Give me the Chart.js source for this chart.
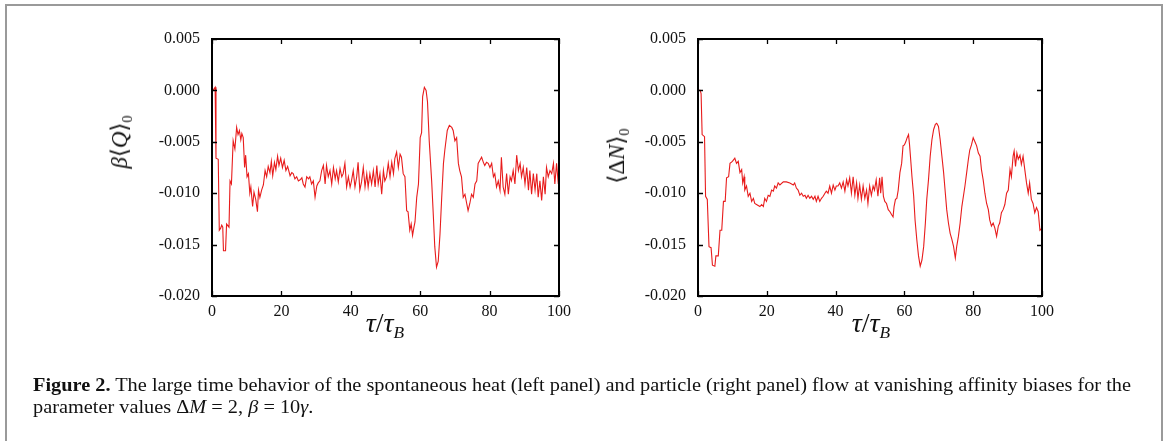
<!DOCTYPE html>
<html>
<head>
<meta charset="utf-8">
<script src="https://cdn.jsdelivr.net/npm/chart.js@4.4.1/dist/chart.umd.min.js"></script>
<style>
  html, body { margin:0; padding:0; background:#fff; }
  body { width:1168px; height:441px; overflow:hidden; position:relative; font-family:"Liberation Serif", "DejaVu Serif", serif; }
  #frame { position:absolute; left:5px; top:4px; width:1158px; height:470px; border:2px solid #9a9a9a; border-bottom:none; box-sizing:border-box; }
  canvas { position:absolute; top:0; }
  .ytitle { position:absolute; transform:translate(-50%,-50%) rotate(-90deg); font-size:23px; white-space:nowrap; color:#111; }
  .xtitle { position:absolute; transform:translate(-50%,-50%); font-size:28px; white-space:nowrap; color:#111; }
  .cap { position:absolute; left:33px; font-size:19px; line-height:22px; white-space:nowrap; color:#111; transform-origin:left top; }
  sub { font-size:62%; vertical-align:-0.35em; }
</style>
</head>
<body>
<div id="frame"></div>
<div style="position:absolute;left:0;top:0;width:584px;height:441px"><canvas id="c1" width="584" height="441" style="left:0"></canvas></div>
<div style="position:absolute;left:584px;top:0;width:584px;height:441px"><canvas id="c2" width="584" height="441" style="left:0"></canvas></div>

<div class="ytitle" style="left:121px;top:142px"><i>β</i>⟨<i>Q</i>⟩<sub>0</sub></div>
<div class="ytitle" style="left:618px;top:156px">⟨Δ<i>N</i>⟩<sub>0</sub></div>
<div class="xtitle" style="left:385px;top:325px"><i>τ</i>/<i>τ</i><sub><i>B</i></sub></div>
<div class="xtitle" style="left:871px;top:325px"><i>τ</i>/<i>τ</i><sub><i>B</i></sub></div>

<div class="cap" id="cap1" style="top:374px"><b>Figure 2.</b> The large time behavior of the spontaneous heat (left panel) and particle (right panel) flow at vanishing affinity biases for the</div>
<div class="cap" id="cap2" style="top:396px">parameter values Δ<i>M</i> = 2, <i>β</i> = 10<i>γ</i>.</div>

<script>
// ---- data ----
const xTicks = [0, 20, 40, 60, 80, 100];
const yTicks = [-0.020, -0.015, -0.010, -0.005, 0.000, 0.005];

const heatT = [0,0.5,0.9,1.15,1.8,2.1,2.5,2.8,3.1,3.3,3.9,4.2,4.9,5.2,5.6,6.1,6.6,7.1,7.5,7.9,8.3,8.6,9.0,9.4,9.7,10.1,10.5,10.9,11.2,11.7,12.1,12.6,13.1,13.4,13.8,14.3,14.8,15.3,15.75,16.2,16.7,17.1,17.5,18.0,18.4,18.9,19.3,19.8,20.3,20.8,21.3,21.8,22.5,23.0,23.4,23.9,24.4,24.9,25.4,25.9,26.3,26.8,27.3,27.8,28.2,28.7,29.2,29.7,30.2,30.6,31.1,31.6,32.1,32.6,33.0,33.5,34.0,34.5,35.0,35.5,35.9,36.4,36.9,37.4,37.8,38.3,38.8,39.3,39.8,40.2,40.7,41.2,41.7,42.1,42.6,43.1,43.6,44.1,44.6,45.0,45.5,46.0,46.5,47.0,47.5,47.9,48.4,48.9,49.4,49.8,50.3,50.8,51.3,51.8,52.3,52.7,53.2,53.7,54.2,54.6,55.1,55.6,56.1,56.5,57.0,57.4,57.8,58.2,58.5,59.0,59.5,60.0,60.4,60.7,61.2,61.7,62.1,62.6,63.3,63.8,64.2,64.7,65.2,65.7,66.2,66.7,67.1,67.8,68.4,69.1,69.5,70.0,70.5,71.0,71.4,71.9,72.4,72.9,73.4,73.8,74.3,74.8,75.3,75.8,76.3,76.7,77.2,77.7,78.2,78.6,79.1,79.6,80.1,80.6,81.1,81.5,82.0,82.5,83.0,83.4,83.9,84.4,84.9,85.4,85.9,86.3,86.8,87.3,87.8,88.3,88.8,89.2,89.7,90.2,90.7,91.2,91.6,92.1,92.6,93.1,93.6,94.0,94.5,95.0,95.5,96.0,96.4,96.9,97.4,97.9,98.4,98.8,99.3,99.8,100];
const heatV = [0.0000,0.0001,0.0003,-0.0066,-0.0067,-0.0136,-0.0134,-0.0131,-0.0133,-0.0156,-0.0156,-0.0130,-0.0133,-0.0088,-0.0091,-0.0049,-0.0057,-0.0036,-0.0043,-0.0039,-0.0048,-0.0042,-0.0046,-0.0075,-0.0063,-0.0084,-0.0081,-0.0100,-0.0094,-0.0113,-0.0099,-0.0106,-0.0118,-0.0097,-0.0104,-0.0097,-0.0092,-0.0078,-0.0084,-0.0074,-0.0080,-0.0069,-0.0083,-0.0070,-0.0077,-0.0064,-0.0073,-0.0066,-0.0075,-0.0068,-0.0078,-0.0074,-0.0083,-0.0080,-0.0081,-0.0086,-0.0084,-0.0088,-0.0087,-0.0085,-0.0091,-0.0094,-0.0084,-0.0086,-0.0084,-0.0091,-0.0088,-0.0104,-0.0093,-0.0090,-0.0088,-0.0078,-0.0073,-0.0091,-0.0073,-0.0084,-0.0078,-0.0091,-0.0075,-0.0086,-0.0078,-0.0089,-0.0076,-0.0084,-0.0081,-0.0071,-0.0094,-0.0084,-0.0094,-0.0088,-0.0078,-0.0094,-0.0084,-0.0070,-0.0097,-0.0089,-0.0075,-0.0094,-0.0081,-0.0094,-0.0081,-0.0091,-0.0078,-0.0094,-0.0073,-0.0091,-0.0081,-0.0101,-0.0078,-0.0088,-0.0084,-0.0071,-0.0084,-0.0070,-0.0081,-0.0066,-0.0060,-0.0075,-0.0062,-0.0065,-0.0081,-0.0084,-0.0117,-0.0118,-0.0136,-0.0130,-0.0141,-0.0133,-0.0128,-0.0104,-0.0091,-0.0046,-0.0041,-0.0006,0.0003,0.0000,-0.0011,-0.0049,-0.0088,-0.0123,-0.0152,-0.0172,-0.0166,-0.0140,-0.0104,-0.0071,-0.0058,-0.0039,-0.0034,-0.0036,-0.0039,-0.0049,-0.0046,-0.0071,-0.0078,-0.0084,-0.0104,-0.0101,-0.0110,-0.0117,-0.0110,-0.0101,-0.0104,-0.0091,-0.0088,-0.0071,-0.0068,-0.0065,-0.0070,-0.0073,-0.0070,-0.0071,-0.0075,-0.0071,-0.0084,-0.0081,-0.0094,-0.0088,-0.0097,-0.0065,-0.0094,-0.0101,-0.0081,-0.0101,-0.0084,-0.0088,-0.0078,-0.0091,-0.0063,-0.0078,-0.0071,-0.0084,-0.0075,-0.0091,-0.0075,-0.0097,-0.0078,-0.0101,-0.0081,-0.0097,-0.0081,-0.0104,-0.0088,-0.0107,-0.0084,-0.0101,-0.0075,-0.0084,-0.0078,-0.0081,-0.0071,-0.0091,-0.0071,-0.0091,-0.0085];

const partT = [0,0.6,0.9,1.2,1.9,2.2,2.7,3.2,3.8,4.2,4.9,5.2,5.9,6.4,6.9,7.4,7.9,8.3,8.9,9.3,10.0,10.7,11.2,11.7,12.2,12.7,13.0,13.4,13.6,14.1,14.6,15.1,15.6,16.1,16.5,17.0,18.0,18.5,19.0,19.4,19.9,20.4,20.9,21.4,21.9,22.3,22.8,23.3,23.8,24.8,25.7,26.7,27.7,28.1,28.6,29.1,29.6,30.1,30.6,31.1,31.5,32.0,32.5,33.0,33.5,34.0,34.4,34.9,35.4,35.9,36.4,36.9,37.3,37.8,38.3,38.8,39.3,39.8,40.2,40.7,41.2,41.7,42.2,42.7,43.2,43.6,44.1,44.6,45.1,45.6,46.1,46.5,47.0,47.5,48.0,48.5,49.0,49.4,49.9,50.4,50.9,51.3,51.8,52.3,52.8,53.1,53.5,53.9,54.3,54.8,55.3,55.8,56.3,56.7,57.0,57.4,57.8,58.2,58.7,59.2,59.6,60.0,60.4,60.8,61.2,61.5,61.8,62.2,62.7,63.1,63.6,64.1,64.6,65.1,65.6,66.1,66.5,67.0,67.5,68.0,68.5,69.0,69.4,69.9,70.4,70.9,71.4,71.9,72.3,72.8,73.3,73.8,74.3,74.8,75.2,75.7,76.2,76.7,77.6,78.1,78.6,79.0,79.5,80.0,80.5,81.0,81.5,82.0,82.4,82.9,83.4,83.9,84.4,84.8,85.3,85.8,86.3,86.8,87.3,87.7,88.2,88.7,89.2,89.7,90.2,90.7,91.1,91.6,91.9,92.3,92.7,93.1,93.6,94.0,94.5,95.0,95.5,96.0,96.4,96.9,97.4,97.9,98.4,98.9,99.4,100];
const partV = [0.0000,0.0000,-0.0003,-0.0043,-0.0045,-0.0103,-0.0106,-0.0152,-0.0153,-0.0170,-0.0171,-0.0161,-0.0161,-0.0136,-0.0136,-0.0108,-0.0108,-0.0085,-0.0084,-0.0071,-0.0069,-0.0066,-0.0071,-0.0069,-0.0080,-0.0077,-0.0090,-0.0084,-0.0097,-0.0093,-0.0103,-0.0100,-0.0108,-0.0105,-0.0110,-0.0111,-0.0113,-0.0111,-0.0113,-0.0105,-0.0108,-0.0102,-0.0103,-0.0097,-0.0098,-0.0093,-0.0095,-0.0090,-0.0092,-0.0089,-0.0089,-0.0090,-0.0092,-0.0090,-0.0095,-0.0097,-0.0102,-0.0100,-0.0103,-0.0102,-0.0105,-0.0102,-0.0105,-0.0103,-0.0106,-0.0103,-0.0108,-0.0103,-0.0108,-0.0105,-0.0103,-0.0100,-0.0098,-0.0100,-0.0093,-0.0100,-0.0092,-0.0097,-0.0093,-0.0093,-0.0090,-0.0095,-0.0089,-0.0098,-0.0087,-0.0093,-0.0085,-0.0100,-0.0084,-0.0102,-0.0090,-0.0105,-0.0092,-0.0106,-0.0093,-0.0105,-0.0097,-0.0110,-0.0093,-0.0102,-0.0093,-0.0097,-0.0087,-0.0103,-0.0085,-0.0100,-0.0084,-0.0103,-0.0108,-0.0110,-0.0116,-0.0118,-0.0121,-0.0123,-0.0113,-0.0106,-0.0105,-0.0097,-0.0080,-0.0071,-0.0054,-0.0053,-0.0050,-0.0046,-0.0043,-0.0053,-0.0066,-0.0084,-0.0103,-0.0126,-0.0145,-0.0161,-0.0171,-0.0165,-0.0152,-0.0129,-0.0106,-0.0087,-0.0064,-0.0048,-0.0038,-0.0033,-0.0032,-0.0035,-0.0048,-0.0064,-0.0080,-0.0100,-0.0116,-0.0129,-0.0139,-0.0145,-0.0152,-0.0163,-0.0152,-0.0142,-0.0129,-0.0113,-0.0093,-0.0080,-0.0067,-0.0058,-0.0053,-0.0046,-0.0050,-0.0054,-0.0061,-0.0064,-0.0077,-0.0087,-0.0100,-0.0110,-0.0116,-0.0126,-0.0132,-0.0129,-0.0134,-0.0142,-0.0132,-0.0129,-0.0119,-0.0116,-0.0111,-0.0100,-0.0097,-0.0077,-0.0084,-0.0064,-0.0059,-0.0074,-0.0061,-0.0067,-0.0063,-0.0072,-0.0064,-0.0077,-0.0090,-0.0100,-0.0090,-0.0106,-0.0110,-0.0119,-0.0114,-0.0118,-0.0136,-0.0134];

// ---- drawing ----
const frameTicks = {
  id: 'frameTicks',
  afterDraw(chart) {
    const { ctx, chartArea: a, scales: { x, y } } = chart;
    ctx.save();
    ctx.strokeStyle = '#000';
    ctx.lineWidth = 1.3;
    const L = 5;
    ctx.beginPath();
    xTicks.forEach(v => {
      const p = Math.round(x.getPixelForValue(v)) + 0.5;
      ctx.moveTo(p, a.bottom); ctx.lineTo(p, a.bottom - L);
      ctx.moveTo(p, a.top); ctx.lineTo(p, a.top + L);
    });
    yTicks.forEach(v => {
      const p = Math.round(y.getPixelForValue(v)) + 0.5;
      ctx.moveTo(a.left, p); ctx.lineTo(a.left + L, p);
      ctx.moveTo(a.right, p); ctx.lineTo(a.right - L, p);
    });
    ctx.stroke();
    ctx.lineWidth = 2;
    ctx.strokeRect(a.left, a.top, a.right - a.left, a.bottom - a.top);
    ctx.restore();
  }
};

function makeChart(id, tArr, vArr, pad) {
  return new Chart(document.getElementById(id), {
    type: 'line',
    data: {
      datasets: [{
        data: tArr.map((t, i) => ({ x: t, y: vArr[i] })),
        borderColor: 'rgb(232,28,28)',
        borderWidth: 1.1,
        pointRadius: 0,
        tension: 0,
        fill: false
      }]
    },
    options: {
      responsive: false,
      animation: false,
      parsing: false,
      layout: { padding: pad },
      plugins: { legend: { display: false }, tooltip: { enabled: false }, title: { display: false } },
      scales: {
        x: {
          type: 'linear', min: 0, max: 100,
          afterBuildTicks: s => { s.ticks = xTicks.map(v => ({ value: v })); },
          afterFit: s => { s.height = 34; },
          grid: { display: false, drawTicks: false },
          border: { display: false },
          ticks: { padding: 6, color: '#111', font: { family: 'Liberation Serif', size: 16 }, maxRotation: 0,
                   callback: v => String(Math.round(v)) }
        },
        y: {
          type: 'linear', min: -0.020, max: 0.005,
          afterBuildTicks: s => { s.ticks = yTicks.map(v => ({ value: v })); },
          afterFit: s => { s.width = 60; },
          grid: { display: false, drawTicks: false },
          border: { display: false },
          ticks: { padding: 12, color: '#111', font: { family: 'Liberation Serif', size: 16 },
                   callback: v => (Math.abs(v) < 1e-9 ? '0.000' : Number(v).toFixed(3)) }
        }
      }
    },
    plugins: [frameTicks]
  });
}

makeChart('c1', heatT, heatV, { left: 152, right: 25, top: 39, bottom: 111 });
makeChart('c2', partT, partV, { left: 54, right: 126, top: 39, bottom: 111 });

// fit caption lines to the reference line width
(function () {
  const c1 = document.getElementById('cap1'), c2 = document.getElementById('cap2');
  const w = c1.getBoundingClientRect().width;
  const k = 1098 / w;
  c1.style.transform = 'scaleX(' + k + ')';
  c2.style.transform = 'scaleX(' + k + ')';
})();
</script>
</body>
</html>
